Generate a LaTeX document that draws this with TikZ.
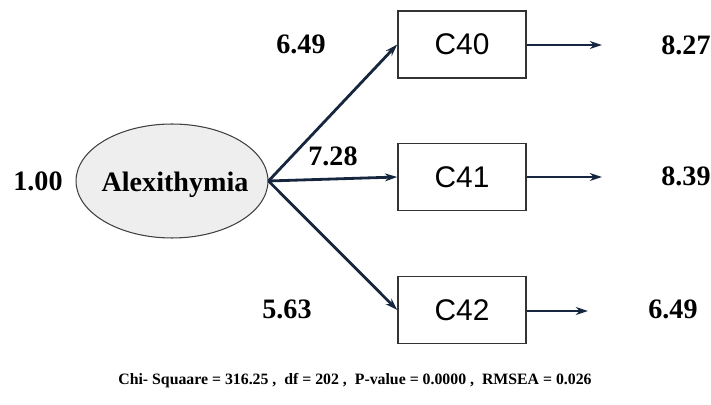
\documentclass[tikz,border=0pt]{standalone}
\usepackage{fontspec}
\setmainfont{Liberation Serif}
\newfontfamily\boxfont{Liberation Sans}
\usetikzlibrary{shapes.geometric,arrows.meta}
\definecolor{pathnavy}{RGB}{22,38,62}
\definecolor{latentgray}{RGB}{238,238,238}

\begin{document}
\begin{tikzpicture}[x=0.02cm, y=-0.02cm,
    latent/.style={draw=black!75, fill=latentgray, ellipse, line width=0.6pt, minimum width=3.84cm, minimum height=2.28cm, inner sep=0pt},
    indicator/.style={draw=black!80, line width=0.9pt, minimum width=2.56cm, minimum height=1.34cm, inner sep=0pt, font=\boxfont\fontsize{17}{20}\selectfont},
    val/.style={inner sep=0pt, font=\bfseries\fontsize{16}{19}\selectfont},
    path/.style={draw=pathnavy, line width=1.6pt, -{Stealth[length=7pt, width=4.5pt]}}]
    \useasboundingbox (0,0) rectangle (711,405);
    \node[latent] (alex) at (172,181) {};
    \node[val] at (175,185) {Alexithymia};
    \node[val] (var) at (38,181) {1.00};
    \node[indicator] (c40) at (462,44.5) {C40};
    \node[indicator] (c41) at (462,177) {C41};
    \node[indicator] (c42) at (462,310) {C42};
    \coordinate (e40) at (602,45);
    \coordinate (e41) at (602,177);
    \coordinate (e42) at (588,311);
    %
    \draw[path] (alex.east) -- (c40.west);
    \draw[path] (alex.east) -- (c41.west);
    \draw[path] (alex.east) -- (c42.west);
    \draw[path] (c40.east |- e40) -- (e40);
    \draw[path] (c41.east |- e41) -- (e41);
    \draw[path] (c42.east |- e42) -- (e42);
    %
    \node[val] (l40) at (301,44) {6.49};
    \node[val] (l41) at (333,156) {7.28};
    \node[val] (l42) at (287,309) {5.63};
    \node[val] (r40) at (686,45) {8.27};
    \node[val] (r41) at (686,176) {8.39};
    \node[val] (r42) at (673,309) {6.49};
    \node[inner sep=0pt, font=\bfseries\fontsize{9}{11}\selectfont] (fit) at (355,381)
      {Chi- Squaare = 316.25 ,\ \ df = 202 ,\ \ P-value = 0.0000 ,\ \ RMSEA = 0.026};
\end{tikzpicture}
\end{document}
